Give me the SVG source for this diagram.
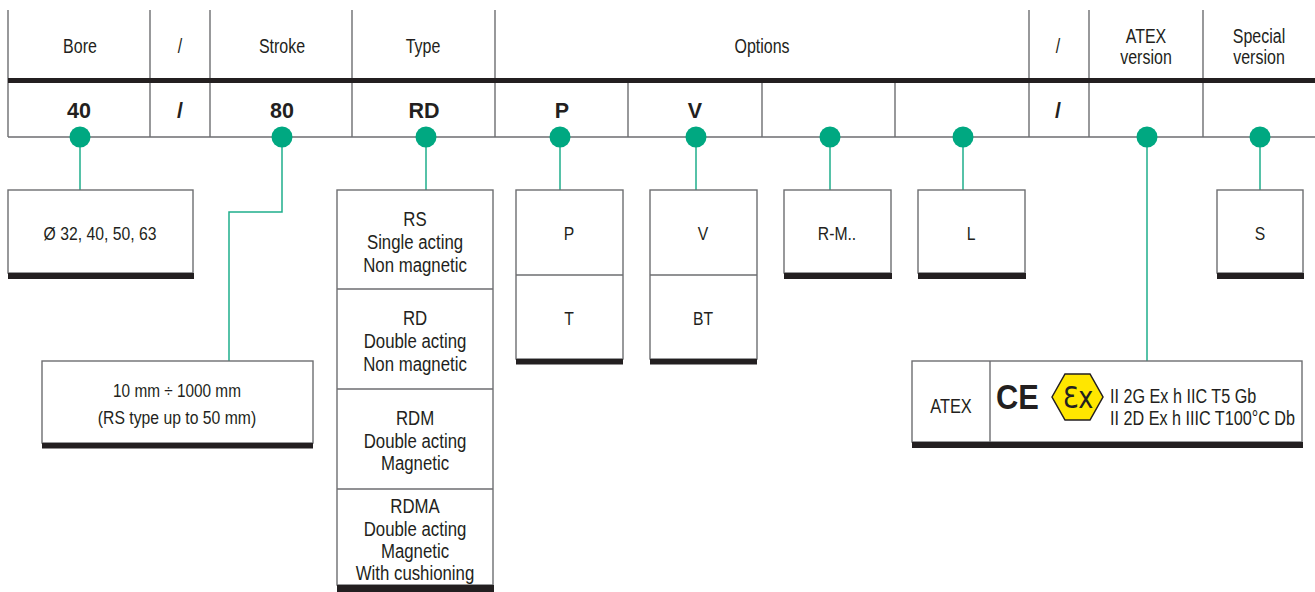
<svg xmlns="http://www.w3.org/2000/svg" width="1315" height="592" viewBox="0 0 1315 592">
<style>
.ln{stroke:#6d6e71;stroke-width:1.4;fill:none}
.box{fill:#fff;stroke:#6d6e71;stroke-width:1.4}
.bar{fill:#231f20}
.t{font-family:"Liberation Sans",Arial,"DejaVu Sans",sans-serif;fill:#231f20;text-anchor:middle}
.h{font-size:19.5px}
.v{font-size:21.5px;font-weight:bold}
.b{font-size:19.2px}
.ty{font-size:21px}
.con{stroke:#1fae8c;stroke-width:1.5;fill:none}
.dot{fill:#00a881}
</style>
<rect width="1315" height="592" fill="#fff"/>

<g id="header">
  <path class="ln" d="M8 10V137M150 10V137M210 10V137M352 10V137M495 10V137M1029 10V137M1089 10V137M1203 10V137M628 83V137M762 83V137M895 83V137M8 137H1315"/>
  <rect class="bar" x="8" y="78" width="1307" height="5"/>
  <text class="t h" transform="translate(80 53) scale(.82 1)">Bore</text>
  <text class="t h" transform="translate(180 53) scale(.82 1)">/</text>
  <text class="t h" transform="translate(282 53) scale(.82 1)">Stroke</text>
  <text class="t h" transform="translate(423 53) scale(.82 1)">Type</text>
  <text class="t h" transform="translate(762 53) scale(.82 1)">Options</text>
  <text class="t h" transform="translate(1058 53) scale(.82 1)">/</text>
  <text class="t h" transform="translate(1146 43) scale(.82 1)">ATEX</text>
  <text class="t h" transform="translate(1146 64) scale(.82 1)">version</text>
  <text class="t h" transform="translate(1259 43) scale(.82 1)">Special</text>
  <text class="t h" transform="translate(1259 64) scale(.82 1)">version</text>
  <text class="t v" x="79" y="118">40</text>
  <text class="t v" x="180" y="118">/</text>
  <text class="t v" x="282" y="118">80</text>
  <text class="t v" x="424" y="118">RD</text>
  <text class="t v" x="562" y="118">P</text>
  <text class="t v" x="695" y="118">V</text>
  <text class="t v" x="1058" y="118">/</text>
</g>

<g id="connectors">
  <path class="con" d="M80 137V190M282 137V212H229V361M426 137V190M560 137V190M696 137V190M830 137V190M963 137V190M1147 137V361M1260 137V190"/>
  <circle class="dot" cx="80" cy="137" r="10.5"/>
  <circle class="dot" cx="282" cy="137" r="10.5"/>
  <circle class="dot" cx="426" cy="137" r="10.5"/>
  <circle class="dot" cx="560" cy="137" r="10.5"/>
  <circle class="dot" cx="696" cy="137" r="10.5"/>
  <circle class="dot" cx="830" cy="137" r="10.5"/>
  <circle class="dot" cx="963" cy="137" r="10.5"/>
  <circle class="dot" cx="1147" cy="137" r="10.5"/>
  <circle class="dot" cx="1260" cy="137" r="10.5"/>
</g>

<g id="bore-box">
  <rect class="box" x="8" y="190" width="185" height="83"/>
  <rect class="bar" x="8" y="273" width="186" height="6"/>
  <text class="t b" transform="translate(100 240) scale(.82 1)">Ø 32, 40, 50, 63</text>
</g>

<g id="stroke-box">
  <rect class="box" x="42" y="361" width="271" height="82"/>
  <rect class="bar" x="42" y="443" width="271" height="5.5"/>
  <text class="t b" transform="translate(177 397) scale(.8 1)">10 mm ÷ 1000 mm</text>
  <text class="t b" transform="translate(177 424) scale(.82 1)">(RS type up to 50 mm)</text>
</g>

<g id="type-box">
  <rect class="box" x="337" y="190" width="156" height="395"/>
  <path class="ln" d="M337 289H493M337 389H493M337 489H493"/>
  <rect class="bar" x="337" y="585" width="157" height="7"/>
  <text class="t ty" transform="translate(415 226) scale(.8 1)">RS</text>
  <text class="t ty" transform="translate(415 249) scale(.8 1)">Single acting</text>
  <text class="t ty" transform="translate(415 272) scale(.8 1)">Non magnetic</text>
  <text class="t ty" transform="translate(415 325) scale(.8 1)">RD</text>
  <text class="t ty" transform="translate(415 348) scale(.8 1)">Double acting</text>
  <text class="t ty" transform="translate(415 371) scale(.8 1)">Non magnetic</text>
  <text class="t ty" transform="translate(415 425) scale(.8 1)">RDM</text>
  <text class="t ty" transform="translate(415 448) scale(.8 1)">Double acting</text>
  <text class="t ty" transform="translate(415 470) scale(.8 1)">Magnetic</text>
  <text class="t ty" transform="translate(415 513) scale(.8 1)">RDMA</text>
  <text class="t ty" transform="translate(415 536) scale(.8 1)">Double acting</text>
  <text class="t ty" transform="translate(415 558) scale(.8 1)">Magnetic</text>
  <text class="t ty" transform="translate(415 580) scale(.8 1)">With cushioning</text>
</g>

<g id="p-box">
  <rect class="box" x="516" y="190" width="107" height="169"/>
  <path class="ln" d="M516 275H623"/>
  <rect class="bar" x="516" y="359" width="107" height="5.5"/>
  <text class="t b" transform="translate(569 240) scale(.82 1)">P</text>
  <text class="t b" transform="translate(569 325) scale(.82 1)">T</text>
</g>

<g id="v-box">
  <rect class="box" x="650" y="190" width="107" height="169"/>
  <path class="ln" d="M650 275H757"/>
  <rect class="bar" x="650" y="359" width="107" height="5.5"/>
  <text class="t b" transform="translate(703 240) scale(.82 1)">V</text>
  <text class="t b" transform="translate(703 325) scale(.82 1)">BT</text>
</g>

<g id="rm-box">
  <rect class="box" x="784" y="190" width="107" height="83"/>
  <rect class="bar" x="784" y="273" width="108" height="6"/>
  <text class="t b" transform="translate(837 240) scale(.82 1)">R-M..</text>
</g>

<g id="l-box">
  <rect class="box" x="918" y="190" width="107" height="83"/>
  <rect class="bar" x="918" y="273" width="108" height="6"/>
  <text class="t b" transform="translate(971 240) scale(.82 1)">L</text>
</g>

<g id="s-box">
  <rect class="box" x="1217" y="190" width="86" height="83"/>
  <rect class="bar" x="1217" y="273" width="87" height="6"/>
  <text class="t b" transform="translate(1260 240) scale(.82 1)">S</text>
</g>

<g id="atex-box">
  <rect class="box" x="912" y="361" width="390" height="81"/>
  <path class="ln" d="M990 361V442"/>
  <rect class="bar" x="912" y="442" width="391" height="6"/>
  <text class="t" style="font-size:20px" transform="translate(951 413) scale(.82 1)">ATEX</text>
  <text class="t" style="font-size:35px;font-weight:bold;text-anchor:start" transform="translate(996 409) scale(.88 1)">CE</text>
  <polygon points="1052,397 1065,374 1090,374 1103,397 1090,420 1065,420" fill="#ffe600" stroke="#231f20" stroke-width="1.5"/>
  <text class="t" style="font-size:30px;font-family:'DejaVu Sans',sans-serif" transform="translate(1078 408) scale(.85 1)">Ɛx</text>
  <text class="t h" style="text-anchor:start" transform="translate(1110 403) scale(.83 1)">II 2G Ex h IIC T5 Gb</text>
  <text class="t h" style="text-anchor:start" transform="translate(1110 425) scale(.83 1)">II 2D Ex h IIIC T100°C Db</text>
</g>
</svg>
